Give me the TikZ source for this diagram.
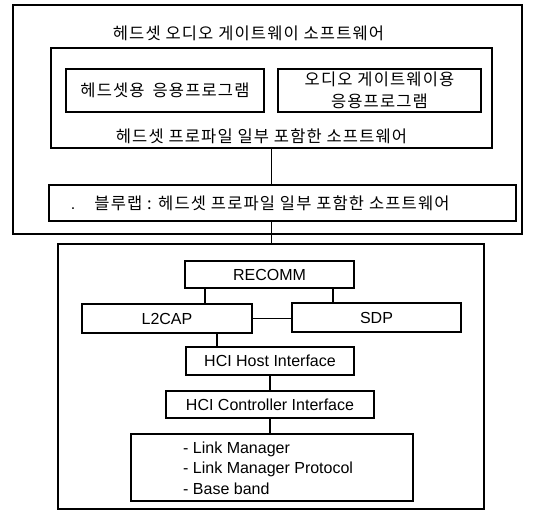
\documentclass[tikz,border=0pt]{standalone}
\usepackage{fontspec}
\setmainfont{Liberation Sans}
\newfontfamily\kr[LetterSpace=7]{Noto Sans CJK KR}
\begin{document}
\begin{tikzpicture}[x=1pt,y=-1pt,
  box/.style={draw,line width=1.1pt,inner sep=0pt},
  kt/.style={font=\kr\fontsize{16.5}{22}\selectfont,inner sep=0pt},
  lt/.style={font=\fontsize{16}{20.5}\selectfont,inner sep=0pt},
  conn/.style={line width=1.1pt}]
\useasboundingbox (0,0) rectangle (550,512);
% upper part
\node[box,minimum width=509pt,minimum height=229pt] (outer) at (267.5,119.5) {};
\node[kt] (title) at (248.5,33) {헤드셋 오디오 게이트웨이 소프트웨어};
\node[box,minimum width=441pt,minimum height=100pt] (inner) at (271.5,98) {};
\node[box,kt,minimum width=198pt,minimum height=43pt] (apph) at (165,90.5) {헤드셋용\hspace{8pt}응용프로그램};
\node[box,kt,minimum width=203pt,minimum height=43pt,align=center] (appa) at (379.5,90.5) {오디오 게이트웨이용\\응용프로그램};
\node[kt] (part) at (261.5,136) {헤드셋 프로파일 일부 포함한 소프트웨어};
\node[box,minimum width=467pt,minimum height=36pt] (blue) at (282.5,203) {};
\node[kt] (bluetext) at (272,203) {블루랩 : 헤드셋 프로파일 일부 포함한 소프트웨어};
\node[lt,anchor=base] (dot) at (73,209) {.};
% lower part
\node[box,minimum width=426pt,minimum height=265pt] (lower) at (271,376.5) {};
\node[box,lt,minimum width=169pt,minimum height=27pt] (recomm) at (269.5,274.5) {RECOMM};
\node[box,lt,minimum width=170pt,minimum height=29pt] (l2cap) at (167,318.5) {L2CAP};
\node[box,lt,minimum width=169pt,minimum height=29pt] (sdp) at (376.5,317.5) {SDP};
\node[box,lt,minimum width=168pt,minimum height=28pt] (host) at (270,361) {HCI Host Interface};
\node[box,lt,minimum width=208pt,minimum height=27pt] (ctrl) at (270,404.5) {HCI Controller Interface};
\node[box,minimum width=282pt,minimum height=67pt] (base) at (272,467.5) {};
\node[lt,anchor=west,align=left] (basetext) at (183,468) {- Link Manager\\- Link Manager Protocol\\- Base band};
% helper x positions
\coordinate (xa) at (205,0);
\coordinate (xb) at (333,0);
\coordinate (xc) at (217,0);
% connectors
\draw[conn] (inner.south) -- (inner.south |- blue.north);
\draw[conn] (blue.south -| inner.south) -- (lower.north -| inner.south);
\draw[conn] (recomm.south -| xa) -- (l2cap.north -| xa);
\draw[conn] (recomm.south -| xb) -- (sdp.north -| xb);
\draw[conn] (l2cap.east) -- (l2cap.east -| sdp.west);
\draw[conn] (l2cap.south -| xc) -- (host.north -| xc);
\draw[conn] (host.south) -- (ctrl.north);
\draw[conn] (ctrl.south) -- (ctrl.south |- base.north);
\end{tikzpicture}
\end{document}
